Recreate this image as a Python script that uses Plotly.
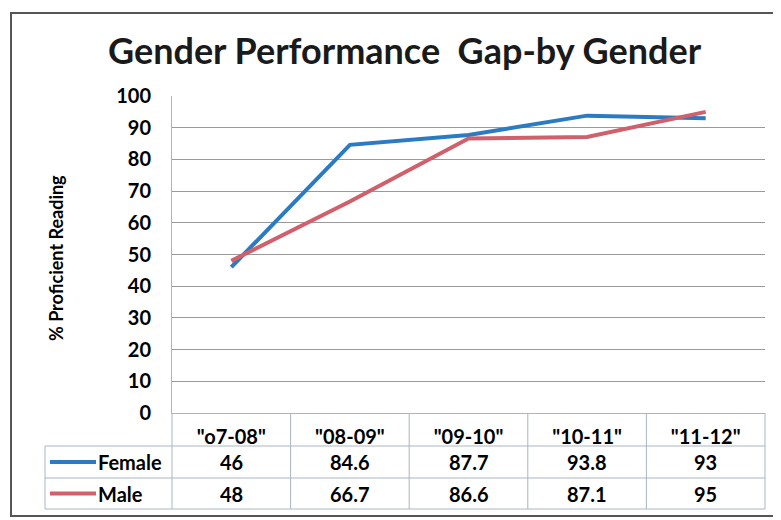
import plotly.graph_objects as go

seasons = ['"o7-08"', '"08-09"', '"09-10"', '"10-11"', '"11-12"']
female = [46, 84.6, 87.7, 93.8, 93]
male = [48, 66.7, 86.6, 87.1, 95]
y_ticks = [0, 10, 20, 30, 40, 50, 60, 70, 80, 90, 100]

blue = '#2b7bc4'
red = '#d0606c'
grid = '#9a9a9a'
tbl = '#a8b6c4'
font = 'Lato, Open Sans, sans-serif'

# page body has an 8px margin, so the figure is shrunk by that much
OFF = 8
# plot area in screen pixels
L, R, T, B = 172, 765, 96, 413
W, H = R - L, B - T


def px(x):
    return (x - L) / W


def py(y):
    return (B - y) / H


fig = go.Figure()
fig.add_trace(go.Scatter(x=seasons, y=female, mode='lines', name='Female',
                         line=dict(color=blue, width=4)))
fig.add_trace(go.Scatter(x=seasons, y=male, mode='lines', name='Male',
                         line=dict(color=red, width=4)))

# data table rows
row_top, row_1, row_2, row_3 = 413, 446, 478, 509
shapes = []
for yy in [row_1, row_2, row_3]:
    shapes.append(dict(type='line', xref='paper', yref='paper',
                       x0=px(45), x1=px(R), y0=py(yy), y1=py(yy),
                       line=dict(color=tbl, width=1)))
shapes.append(dict(type='line', xref='paper', yref='paper',
                   x0=px(45), x1=px(45), y0=py(row_1), y1=py(row_3),
                   line=dict(color=tbl, width=1)))
for k in range(len(seasons) + 1):
    xx = L + k * W / len(seasons)
    shapes.append(dict(type='line', xref='paper', yref='paper',
                       x0=px(xx), x1=px(xx), y0=py(row_top), y1=py(row_3),
                       line=dict(color=tbl, width=1)))

# legend keys inside the table
annotations = []
for name, col, y0, y1 in [('Female', blue, row_1, row_2), ('Male', red, row_2, row_3)]:
    ym = (y0 + y1) / 2
    shapes.append(dict(type='line', xref='paper', yref='paper',
                       x0=px(50), x1=px(96), y0=py(ym), y1=py(ym),
                       line=dict(color=col, width=4)))
    annotations.append(dict(text=name, xref='paper', yref='paper', x=px(96), y=py(ym),
                            xanchor='left', yanchor='middle', showarrow=False,
                            font=dict(size=20, color='black', family=font, weight='bold')))

for vals, y0, y1 in [(female, row_1, row_2), (male, row_2, row_3)]:
    for s, v in zip(seasons, vals):
        annotations.append(dict(text=f'{v:g}', xref='x', yref='paper', x=s,
                                y=py((y0 + y1) / 2), xanchor='center', yanchor='middle',
                                showarrow=False,
                                font=dict(size=20, color='black', family=font, weight='bold')))

# outer chart border
shapes.append(dict(type='rect', xref='paper', yref='paper',
                   x0=px(11), x1=px(795), y0=py(13), y1=py(516),
                   line=dict(color='#555555', width=2)))

annotations.append(dict(text='Gender Performance  Gap-by Gender', xref='paper',
                        yref='paper', x=px(405), y=py(50), xanchor='center',
                        yanchor='middle', showarrow=False,
                        font=dict(size=36, color='#1a1a1a', family=font, weight='bold')))
annotations.append(dict(text='% Proficient Reading', xref='paper', yref='paper',
                        x=px(56), y=py(258), xanchor='center', yanchor='middle',
                        textangle=-90, showarrow=False,
                        font=dict(size=18, color='black', family=font, weight='bold')))

fig.update_layout(
    width=781 - OFF, height=520 - OFF,
    margin=dict(l=L - OFF, r=781 - R, t=T - OFF, b=520 - B),
    paper_bgcolor='white', plot_bgcolor='white',
    showlegend=False,
    shapes=shapes, annotations=annotations,
    font=dict(family=font, color='black'),
)
fig.update_xaxes(range=[-0.5, 4.5], showgrid=False, zeroline=False,
                 showline=True, linecolor=tbl, ticks='', ticklabelstandoff=6,
                 tickfont=dict(size=20, color='black', family=font, weight='bold'))
fig.update_yaxes(range=[0, 100], tickvals=y_ticks, showgrid=True, gridcolor=grid,
                 gridwidth=1, zeroline=False, showline=True, linecolor=tbl,
                 ticks='', ticklabelstandoff=16,
                 tickfont=dict(size=20, color='black', family=font, weight='bold'))

fig.write_html("out.html")
